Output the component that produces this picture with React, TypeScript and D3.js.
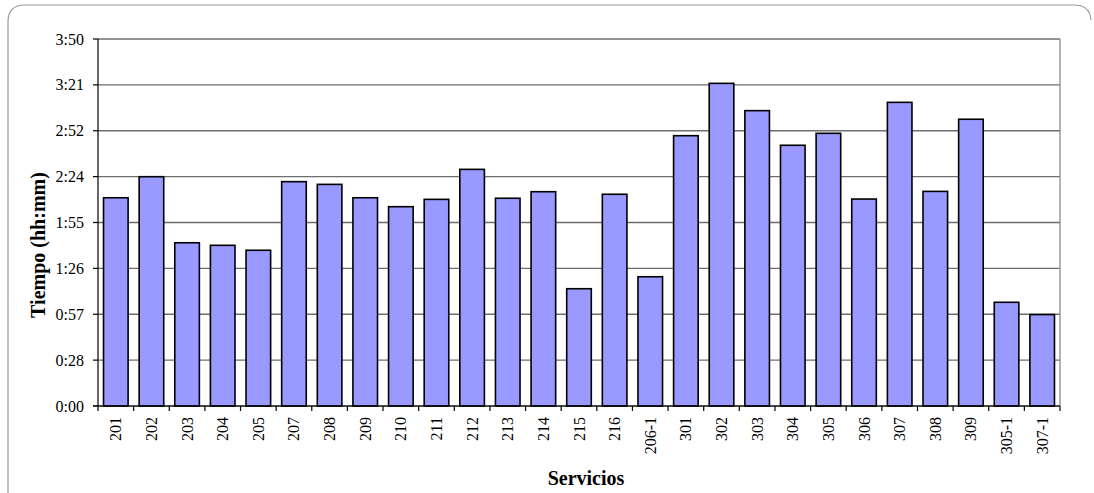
import React from "react";
import * as d3 from "d3";

const categories = ["201","202","203","204","205","207","208","209","210","211","212","213","214","215","216","206-1","301","302","303","304","305","306","307","308","309","305-1","307-1"];
// minutes
const minutes = [130.5,143.7,102.3,100.7,97.6,140.6,138.9,130.5,124.9,129.5,148.3,130.2,134.3,73.5,132.7,81.0,169.4,202.2,185.1,163.4,170.9,129.7,190.3,134.5,179.7,65.0,57.3];
const tickLabels = ["0:00","0:28","0:57","1:26","1:55","2:24","2:52","3:21","3:50"];
const yMax = 230;

const W = 1094, H = 493;
const left = 98, right = 1060, top = 39, bottom = 406;
const font = "'Liberation Serif', 'Times New Roman', serif";

export default function App() {
  const x = d3.scaleBand<string>().domain(categories).range([left, right]).paddingInner(0.31).paddingOuter(0.155);
  const y = d3.scaleLinear().domain([0, yMax]).range([bottom, top]);
  const tickVals = tickLabels.map((_, i) => (i * yMax) / (tickLabels.length - 1));
  const step = x.step();
  const boundaries = d3.range(categories.length + 1).map(i => left + i * step);
  return (
    <svg width={W} height={H} style={{ position: "absolute", left: 0, top: 0, background: "#fff" }}>
      <path d={`M8,493 L8,22 Q8,5 25,5 L1074,5 Q1090,5 1091,20`} fill="none" stroke="#9a9a9a" strokeWidth={1.2} />
      {tickVals.map((v, i) => (
        <line key={"g" + i} x1={left} x2={right} y1={y(v)} y2={y(v)} stroke="#6e6e6e" strokeWidth={1.3} />
      ))}
      <line x1={right} x2={right} y1={top} y2={bottom} stroke="#8a8a8a" strokeWidth={1.3} />
      {categories.map((c, i) => (
        <rect key={c} x={x(c)} y={y(minutes[i])} width={x.bandwidth()} height={bottom - y(minutes[i])} fill="#9999ff" stroke="#000" strokeWidth={1.6} />
      ))}
      <line x1={left} x2={left} y1={top} y2={bottom} stroke="#000" strokeWidth={1.2} />
      <line x1={left - 5} x2={right} y1={bottom} y2={bottom} stroke="#000" strokeWidth={1.2} />
      {tickVals.map((v, i) => (
        <g key={"t" + i}>
          <line x1={left - 5} x2={left} y1={y(v)} y2={y(v)} stroke="#000" strokeWidth={1.2} />
          <text x={84} y={y(v)} dy="0.35em" textAnchor="end" fontFamily={font} fontSize={16} fill="#000">{tickLabels[i]}</text>
        </g>
      ))}
      {boundaries.map((bx, i) => (
        <line key={"b" + i} x1={bx} x2={bx} y1={bottom} y2={bottom + 5} stroke="#000" strokeWidth={1.2} />
      ))}
      {categories.map(c => {
        const cx = (x(c) as number) + x.bandwidth() / 2;
        return (
          <text key={"l" + c} transform={`translate(${cx + 5.5},${417}) rotate(-90)`} textAnchor="end" fontFamily={font} fontSize={16} fill="#000">{c}</text>
        );
      })}
      <text transform={`translate(45,245) rotate(-90)`} textAnchor="middle" fontFamily={font} fontSize={20} fontWeight="bold" fill="#000">Tiempo (hh:mm)</text>
      <text x={586} y={485} textAnchor="middle" fontFamily={font} fontSize={20} fontWeight="bold" fill="#000">Servicios</text>
    </svg>
  );
}
